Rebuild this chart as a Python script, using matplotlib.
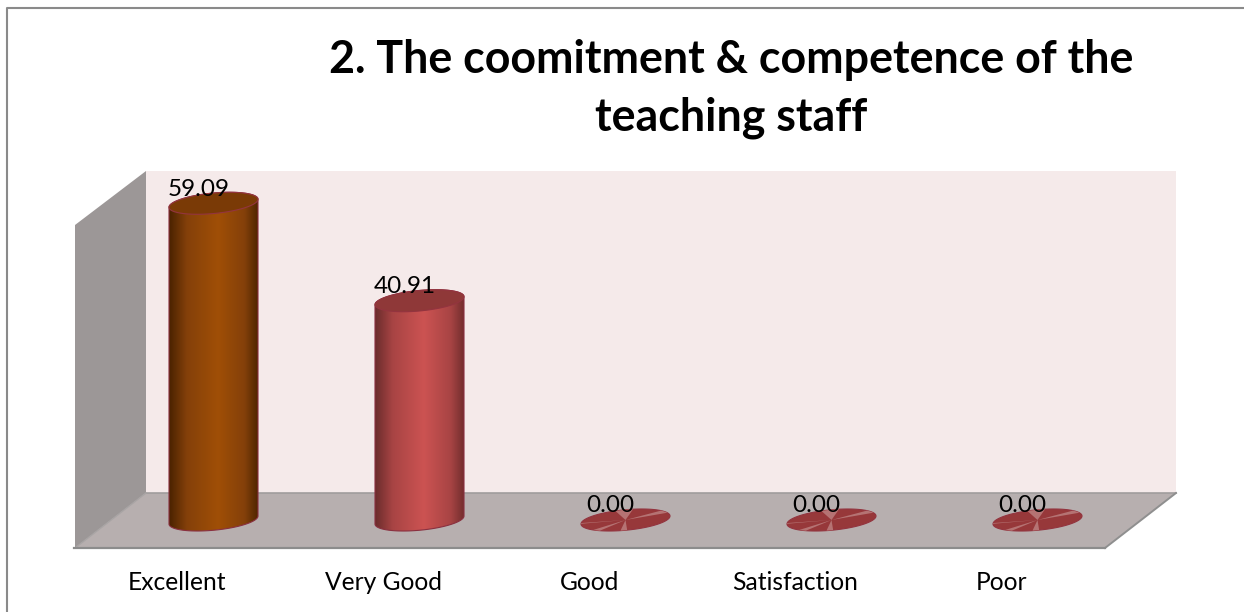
# plot.py - 3D style cylinder chart, teaching staff survey

import numpy as np
import matplotlib
matplotlib.use("Agg")
import matplotlib.pyplot as plt
from matplotlib.colors import LinearSegmentedColormap
from matplotlib.patches import Polygon
from matplotlib.transforms import ScaledTranslation

plt.rcParams["font.family"] = ["Lato", "DejaVu Sans"]

title = "2. The coomitment & competence of the\nteaching staff"
categories = ["Excellent", "Very Good", "Good", "Satisfaction", "Poor"]
values = [59.09, 40.91, 0.00, 0.00, 0.00]

W, H = 1244, 612
BAR_WIDTH = 89 / 206
ELL_B = 10.25 / 5.36
ELL_SHEAR = 4.0 / 5.36

orange = ["#4a2200", "#84400a", "#a04f06", "#84400a", "#502600"]
red = ["#6a2c2c", "#a84444", "#cc5352", "#a84444", "#742e2e"]
stop_pos = [0.0, 0.2, 0.55, 0.85, 1.0]
styles = [
    {"stops": orange, "top": "#7a3a06"},
    {"stops": red, "top": "#8f3838"},
    {"stops": red, "top": "#97383a"},
    {"stops": red, "top": "#97383a"},
    {"stops": red, "top": "#97383a"},
]
# pale wedges on the zero height discs, as angles around the cap
streaks = [(0.35, 0.65), (1.4, 1.8), (3.05, 3.12), (3.9, 4.1), (4.6, 4.75)]


def ellipse_xy(cx, level, t):
    """Points on the tilted end cap of a cylinder, in data coordinates."""
    x = cx + BAR_WIDTH / 2 * np.cos(t)
    y = level + ELL_B * np.sin(t) + ELL_SHEAR * np.cos(t)
    return x, y


fig = plt.figure(figsize=(W / 100, H / 100), dpi=100, facecolor="white")

# walls and floor, in image pixels
bg = fig.add_axes([0, 0, 1, 1])
bg.set_xlim(0, W)
bg.set_ylim(H, 0)
bg.axis("off")
bg.add_patch(Polygon([(146, 171), (1176, 171), (1176, 493), (146, 493)], fc="#f5eaea", ec="none"))
bg.add_patch(Polygon([(75, 225), (146, 171), (146, 493), (75, 548)], fc="#9c9797", ec="none"))
bg.add_patch(Polygon([(146, 493), (1176, 493), (1105, 548), (75, 548)], fc="#b7afaf", ec="none"))
bg.plot([146, 1176], [493, 493], color="#a09c9c", lw=1.2)
bg.plot([75, 146], [548, 493], color="#a8a4a4", lw=1)
bg.plot([1105, 1176], [548, 493], color="#8f8f8f", lw=1.4)
bg.plot([74, 1105], [548, 548], color="#8c8c8c", lw=1.6)
# only the top and left of the chart frame are in the picture
bg.plot([7, 7, W], [H, 8, 8], color="#8a8a8a", lw=1.5)

ax = fig.add_axes([110.5 / W, (H - 520) / H, 1030 / W, 321.6 / H])
ax.patch.set_alpha(0)
for spine in ax.spines.values():
    spine.set_visible(False)

t_all = np.linspace(0, 2 * np.pi, 200)
for i, (val, style) in enumerate(zip(values, styles)):
    if val > 0:
        # body: lower half of the bottom cap, upper part closed by the top cap
        t_low = np.linspace(np.pi, 2 * np.pi, 100)
        xb, yb = ellipse_xy(i, 0, t_low)
        t_up = np.linspace(0, np.pi, 100)
        xt, yt = ellipse_xy(i, val, t_up)
        outline = np.column_stack([np.r_[xb, xt], np.r_[yb, yt]])
        cmap = LinearSegmentedColormap.from_list("cyl", list(zip(stop_pos, style["stops"])))
        img = ax.imshow(
            np.linspace(0, 1, 256)[None, :], cmap=cmap, aspect="auto", zorder=2,
            extent=(i - BAR_WIDTH / 2, i + BAR_WIDTH / 2, -5, val + 5),
        )
        body = Polygon(outline, fc="none", ec="#8a3040", lw=0.8, zorder=3, clip_on=False)
        ax.add_patch(body)
        img.set_clip_path(body)
        img.set_clip_box(fig.bbox)
    xe, ye = ellipse_xy(i, val, t_all)
    ax.fill(xe, ye, fc=style["top"], ec="#93343f", lw=0.8, zorder=4, clip_on=False)
    if val == 0:
        for t0, t1 in streaks:
            ts = np.linspace(t0, t1, 8)
            xs, ys = ellipse_xy(i, val, ts)
            ax.fill(np.r_[i, xs], np.r_[val, ys], fc="#b57373", ec="none", zorder=5, clip_on=False)
    ax.annotate(
        f"{val:.2f}", xy=(i, val), xytext=(-15, 14), textcoords="offset pixels",
        ha="center", va="center", fontsize=17.5, color="black", zorder=6,
    )

ax.set_xlim(-0.5, 4.5)
ax.set_ylim(0, 60)
ax.set_yticks([])
ax.set_xticks(range(len(categories)))
ax.set_xticklabels(categories, fontsize=17.7, color="black")
ax.tick_params(axis="x", length=0, pad=37)
shift_left = ScaledTranslation(-36 / 100, 0, fig.dpi_scale_trans)
for label in ax.get_xticklabels():
    label.set_transform(label.get_transform() + shift_left)

fig.text(731 / W, 1 - 89 / H, title, ha="center", va="center",
         fontsize=32.2, fontweight="bold", color="black", linespacing=1.45)

fig.savefig("out.png", dpi=100)
